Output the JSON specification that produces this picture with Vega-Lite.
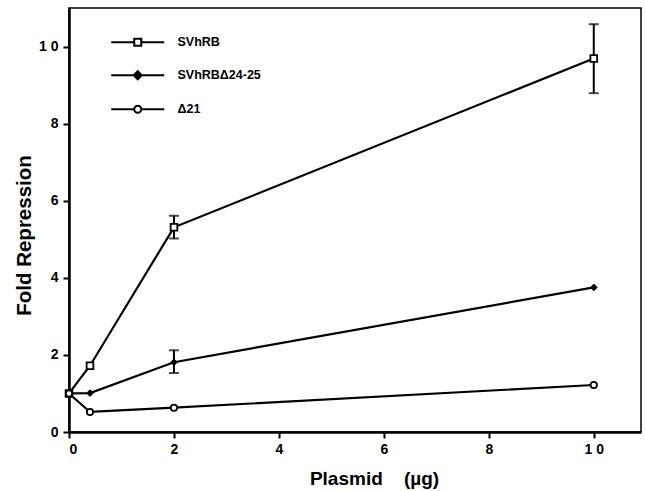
{
  "$schema": "https://vega.github.io/schema/vega-lite/v6.json",
  "width": 572,
  "height": 424,
  "autosize": {"type": "none"},
  "padding": {"left": 69, "top": 8, "right": 4, "bottom": 59},
  "background": "white",
  "config": {
    "font": "Liberation Sans",
    "view": {"stroke": "black", "strokeWidth": 1.5},
    "axis": {
      "labelFont": "Liberation Sans",
      "labelFontWeight": "bold",
      "labelFontSize": 14,
      "labelColor": "black",
      "titleFont": "Liberation Sans",
      "titleFontWeight": "bold",
      "titleFontSize": 19,
      "titleColor": "black",
      "domainColor": "black",
      "domainWidth": 2.5,
      "tickColor": "black",
      "tickWidth": 2,
      "tickSize": 6,
      "grid": false
    }
  },
  "data": {
    "values": [
      {"series": "SVhRB", "x": 0, "y": 1},
      {"series": "SVhRB", "x": 0.4, "y": 1.72},
      {"series": "SVhRB", "x": 2, "y": 5.31, "lo": 5.02, "hi": 5.61},
      {"series": "SVhRB", "x": 10, "y": 9.69, "lo": 8.79, "hi": 10.58},
      {"series": "SVhRBΔ24-25", "x": 0, "y": 1},
      {"series": "SVhRBΔ24-25", "x": 0.4, "y": 1.01},
      {"series": "SVhRBΔ24-25", "x": 2, "y": 1.81, "lo": 1.53, "hi": 2.12},
      {"series": "SVhRBΔ24-25", "x": 10, "y": 3.75},
      {"series": "Δ21", "x": 0, "y": 1},
      {"series": "Δ21", "x": 0.4, "y": 0.52},
      {"series": "Δ21", "x": 2, "y": 0.63},
      {"series": "Δ21", "x": 10, "y": 1.22}
    ]
  },
  "encoding": {
    "x": {
      "field": "x", "type": "quantitative",
      "scale": {"domain": [0, 10.9], "nice": false, "zero": false},
      "axis": {
        "title": "Plasmid\u00a0\u00a0\u00a0\u00a0(µg)",
        "values": [0, 2, 4, 6, 8, 10],
        "labelExpr": "datum.value == 10 ? '1 0' : datum.label",
        "labelPadding": 4,
        "titleX": 305, "titleY": 46, "titleAlign": "center", "titleBaseline": "middle", "titleAnchor": null
      }
    },
    "y": {
      "field": "y", "type": "quantitative",
      "scale": {"domain": [0, 11], "nice": false},
      "axis": {
        "title": "Fold Repression",
        "titleFontSize": 20.5,
        "values": [0, 2, 4, 6, 8, 10],
        "labelExpr": "datum.value == 10 ? '1 0' : datum.label",
        "labelPadding": 5,
        "titleX": -45, "titleY": 227, "titleAlign": "center", "titleBaseline": "middle", "titleAnchor": null
      }
    }
  },
  "layer": [
    {
      "mark": {"type": "line", "color": "black", "strokeWidth": 2.2},
      "encoding": {"detail": {"field": "series"}}
    },
    {
      "transform": [{"filter": "isValid(datum.lo)"}],
      "mark": {"type": "rule", "color": "black", "strokeWidth": 2},
      "encoding": {"y": {"field": "lo", "type": "quantitative"}, "y2": {"field": "hi"}}
    },
    {
      "transform": [{"filter": "isValid(datum.lo)"}],
      "mark": {"type": "tick", "orient": "horizontal", "color": "black", "size": 10, "thickness": 2},
      "encoding": {"y": {"field": "lo", "type": "quantitative"}}
    },
    {
      "transform": [{"filter": "isValid(datum.hi)"}],
      "mark": {"type": "tick", "orient": "horizontal", "color": "black", "size": 10, "thickness": 2},
      "encoding": {"y": {"field": "hi", "type": "quantitative"}}
    },
    {
      "transform": [{"filter": "datum.series == 'SVhRB'"}],
      "mark": {"type": "point", "shape": "square", "filled": true, "fill": "white", "stroke": "black", "strokeWidth": 1.8, "size": 45, "opacity": 1}
    },
    {
      "transform": [{"filter": "datum.series == 'SVhRBΔ24-25'"}],
      "mark": {"type": "point", "shape": "diamond", "filled": true, "fill": "black", "stroke": "black", "strokeWidth": 1, "size": 45, "opacity": 1}
    },
    {
      "transform": [{"filter": "datum.series == 'Δ21'"}],
      "mark": {"type": "point", "shape": "circle", "filled": true, "fill": "white", "stroke": "black", "strokeWidth": 1.8, "size": 40, "opacity": 1}
    },
    {
      "transform": [{"filter": "false"}],
      "mark": {"type": "point", "filled": true, "strokeWidth": 2, "opacity": 1},
      "encoding": {
        "shape": {
          "field": "series", "type": "nominal",
          "scale": {
            "domain": ["SVhRB", "SVhRBΔ24-25", "Δ21"],
            "range": [
              "M-5.3,0L-0.7,0M0.7,0L5.3,0M-0.7,-0.7L0.7,-0.7L0.7,0.7L-0.7,0.7Z",
              "M-5.3,0L5.3,0M0,-0.8L0.8,0L0,0.8L-0.8,0Z",
              "M-5.3,0L-0.7,0M0.7,0L5.3,0M0.7,0A0.7,0.7 0 1,1 -0.7,0A0.7,0.7 0 1,1 0.7,0Z"
            ]
          },
          "legend": {
            "title": null,
            "orient": "none",
            "legendX": 62.5,
            "legendY": 28,
            "symbolSize": 100,
            "symbolStrokeWidth": 2,
            "symbolStrokeColor": "black",
            "labelFont": "Liberation Sans",
            "labelFontWeight": "bold",
            "labelFontSize": 12.5,
            "labelColor": "black",
            "labelOffset": 33.5,
            "rowPadding": 17
          }
        },
        "fill": {
          "field": "series", "type": "nominal",
          "scale": {"domain": ["SVhRB", "SVhRBΔ24-25", "Δ21"], "range": ["white", "black", "white"]}
        },
        "stroke": {
          "field": "series", "type": "nominal",
          "scale": {"domain": ["SVhRB", "SVhRBΔ24-25", "Δ21"], "range": ["black", "black", "black"]}
        }
      }
    }
  ]
}
